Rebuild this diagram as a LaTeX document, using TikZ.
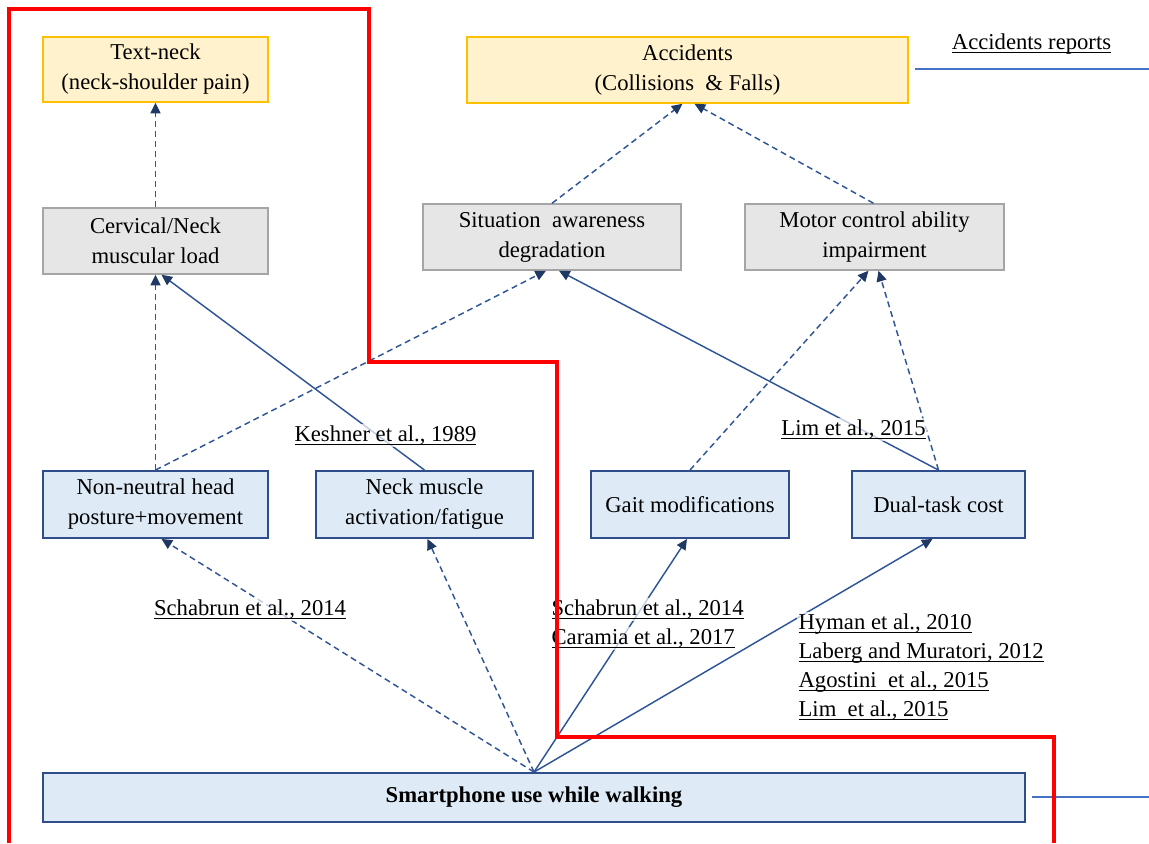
\documentclass[tikz,border=0pt]{standalone}
\usepackage{fontspec}
\setmainfont{Liberation Serif}
\usetikzlibrary{arrows.meta,calc}
\definecolor{edgec}{HTML}{2F5597}
\definecolor{tipc}{HTML}{1F3864}
\definecolor{bluefill}{HTML}{DEEBF7}
\definecolor{boxblue}{HTML}{2F4D8A}
\definecolor{greyfill}{HTML}{E7E6E6}
\definecolor{greyline}{HTML}{A5A5A5}
\definecolor{yelfill}{HTML}{FFF2CC}
\definecolor{yelline}{HTML}{FFC000}
\definecolor{redc}{HTML}{FF0000}
\definecolor{refline}{HTML}{4472C4}
\newcommand{\ulc}[1]{\setbox0\hbox{#1}\rlap{\rule[-3.2pt]{\wd0}{1pt}}\box0}
\tikzset{
  box/.style={draw, line width=1.1pt, align=center, inner sep=0pt},
  yelbox/.style={box, fill=yelfill, draw=yelline},
  greybox/.style={box, fill=greyfill, draw=greyline},
  bluebox/.style={box, fill=bluefill, draw=boxblue, line width=1.4pt},
  link/.style={draw=edgec, line width=1.1pt, -{Triangle[length=8pt,width=7.5pt,color=tipc]}},
  dlink/.style={link, dash pattern=on 4.5pt off 3pt},
  cite/.style={fill=white, fill opacity=0.7, text opacity=1, inner sep=1pt, anchor=base},
  citel/.style={cite, anchor=base west},
  redline/.style={draw=redc, line width=3pt, line join=miter},
  refl/.style={draw=refline, line width=1pt}
}
\begin{document}
\begin{tikzpicture}[x=0.75pt, y=-0.75pt, font=\fontsize{17}{22.5}\selectfont]
\useasboundingbox (0,0) rectangle (1149,843);

% boxes
\node[yelbox, minimum width=168.75pt, minimum height=48.75pt] (tn) at (155.5,69.5) {Text-neck\\(neck-shoulder pain)};
\node[yelbox, minimum width=330.75pt, minimum height=49.5pt] (acc) at (687.5,70) {Accidents\\(Collisions\ \ \& Falls)};
\node[greybox, minimum width=168.75pt, minimum height=49.5pt] (cerv) at (155.5,241) {Cervical/Neck\\muscular load};
\node[greybox, minimum width=193.5pt, minimum height=49.5pt] (sit) at (552,237) {Situation\ \ awareness\\degradation};
\node[greybox, minimum width=194.25pt, minimum height=49.5pt] (mot) at (874.5,237) {Motor control ability\\impairment};
\node[bluebox, minimum width=168.75pt, minimum height=50.25pt] (nn) at (155.5,504.5) {Non-neutral head\\posture+movement};
\node[bluebox, minimum width=162.75pt, minimum height=50.25pt] (nm) at (424.5,504.5) {Neck muscle\\activation/fatigue};
\node[bluebox, minimum width=148.5pt, minimum height=50.25pt] (gait) at (690,504.5) {Gait modifications};
\node[bluebox, minimum width=129.75pt, minimum height=50.25pt] (dt) at (938.5,504.5) {Dual-task cost};
\node[bluebox, minimum width=736.5pt, minimum height=36.75pt] (smart) at (534,797.5) {\textbf{Smartphone use while walking}};

% connectors
\draw[dlink] (cerv.north) -- (tn.south);
\draw[dlink] (nn.north) -- (cerv.south);
\draw[link] (nm.north) -- ($(cerv.south)+(6,0)$);
\draw[dlink] (nn.north) -- ($(sit.south)+(-6,0)$);
\draw[link] (dt.north) -- ($(sit.south)+(7,0)$);
\draw[dlink] (gait.north) -- ($(mot.south)+(-6,0)$);
\draw[dlink] (dt.north) -- ($(mot.south)+(4,0)$);
\draw[dlink] (sit.north) -- ($(acc.south)+(-5,0)$);
\draw[dlink] ($(mot.north)+(-1,0)$) -- ($(acc.south)+(7,0)$);
\draw[dlink] (smart.north) -- ($(nn.south)+(6,0)$);
\draw[dlink] (smart.north) -- ($(nm.south)+(3,0)$);
\draw[link] (smart.north) -- ($(gait.south)+(-3,0)$);
\draw[link] (smart.north) -- ($(dt.south)+(-6,0)$);

% citations
\node[cite] (c1) at (385.5,441) {\ulc{Keshner et al., 1989}};
\node[cite] (c2) at (853.5,435) {\ulc{Lim et al., 2015}};
\node[cite] (c3) at (250,615) {\ulc{Schabrun et al., 2014}};
\node[citel] (c4) at (550,615) {\ulc{Schabrun et al., 2014}};
\node[citel] (c5) at (550,644) {\ulc{Caramia et al., 2017}};
\node[citel] (c6) at (797,629) {\ulc{Hyman et al., 2010}};
\node[citel] (c7) at (797,658) {\ulc{Laberg and Muratori, 2012}};
\node[citel] (c8) at (797,687) {\ulc{Agostini\ \ et al., 2015}};
\node[citel] (c9) at (797,716) {\ulc{Lim\ \ et al., 2015}};
\node[cite] (rep) at (1031.5,49) {\ulc{Accidents reports}};

% reference lines
\coordinate (accR) at (1149,69);
\coordinate (smR) at (1149,797);
\draw[refl] ($(acc.east)+(6,-1)$) -- (accR);
\draw[refl] ($(smart.east)+(6,-0.5)$) -- (smR);

% red outline
\draw[redline] (9,843) -- (9,9) -- (369,9) -- (369,362) -- (557,362) -- (557,737) -- (1054,737) -- (1054,843);
\end{tikzpicture}
\end{document}
